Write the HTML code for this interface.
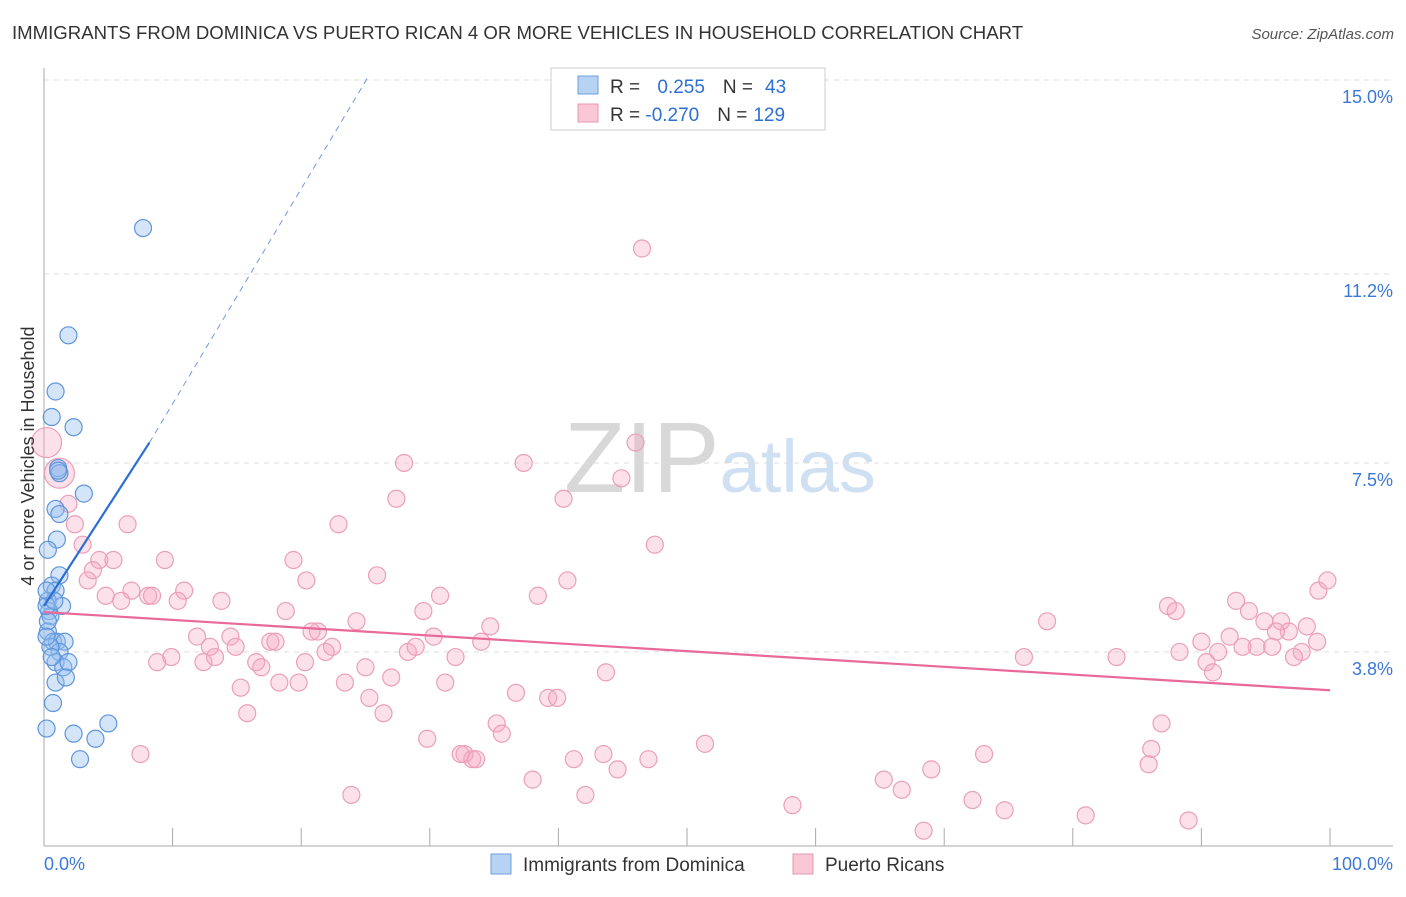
<!DOCTYPE html>
<html><head><meta charset="utf-8"><style>
body{margin:0;background:#fff;font-family:"Liberation Sans",sans-serif}
svg text{font-family:"Liberation Sans",sans-serif}
</style></head><body>
<svg id="chart" width="1406" height="892" xmlns="http://www.w3.org/2000/svg">
<text x="12" y="39" font-size="18.6" fill="#333">IMMIGRANTS FROM DOMINICA VS PUERTO RICAN 4 OR MORE VEHICLES IN HOUSEHOLD CORRELATION CHART</text>
<text x="1394" y="39" font-size="15" fill="#555" text-anchor="end" font-style="italic">Source: ZipAtlas.com</text>
<text x="720" y="492" font-size="100" text-anchor="middle" fill="#ddd" font-family="Liberation Serif"><tspan fill="#d8d8d8">ZIP</tspan><tspan fill="#cfe0f3" font-family="Liberation Sans" font-size="74">atlas</tspan></text>
<g id="grid"></g>
<g id="axes"></g>
<g id="pink"></g>
<g id="blue"></g>
<g id="trends"></g>
<text transform="translate(34,456) rotate(-90)" font-size="18" fill="#333" text-anchor="middle">4 or more Vehicles in Household</text>
<g>
<rect x="551" y="68" width="274" height="62" fill="#fff" stroke="#ccc"/>
<rect x="578" y="76" width="20" height="18" fill="#b7d2f3" stroke="#6fa0dc"/>
<rect x="578" y="104" width="20" height="18" fill="#f9c7d6" stroke="#e899b2"/>
<text x="610" y="93" font-size="19" fill="#333">R = <tspan fill="#2e6fd6" dx="12">0.255</tspan><tspan dx="18">N =</tspan><tspan fill="#2e6fd6" dx="12">43</tspan></text>
<text x="610" y="121" font-size="19" fill="#333">R = <tspan fill="#2e6fd6">-0.270</tspan><tspan dx="18">N =</tspan><tspan fill="#2e6fd6" dx="6">129</tspan></text>
</g>
<g>
<rect x="491" y="854" width="20" height="20" fill="#b7d2f3" stroke="#6fa0dc"/>
<text x="523" y="871" font-size="19" fill="#333">Immigrants from Dominica</text>
<rect x="793" y="854" width="20" height="20" fill="#f9c7d6" stroke="#e899b2"/>
<text x="825" y="871" font-size="19" fill="#333">Puerto Ricans</text>
</g>
</svg>
<script>
const yTicks=[15.0,11.2,7.5,3.8];
const yTickLabels=["15.0%","11.2%","7.5%","3.8%"];
const xLabels=["0.0%","100.0%"];
const blueX=[7.7,1.9,0.9,0.6,2.3,1.1,1.2,3.1,0.9,1.2,1.0,0.3,1.2,0.6,0.9,0.3,1.4,0.4,0.5,0.3,0.7,1.0,1.6,1.2,0.9,1.5,1.9,0.9,1.7,0.7,0.2,2.3,4.0,5.0,2.8,0.3,0.2,1.1,0.5,0.8,0.2,0.6,0.2];
const blueY=[12.1,10.0,8.9,8.4,8.2,7.4,7.3,6.9,6.6,6.5,6.0,5.8,5.3,5.1,5.0,4.8,4.7,4.6,4.5,4.2,4.0,4.0,4.0,3.8,3.6,3.5,3.6,3.2,3.3,2.8,2.3,2.2,2.1,2.4,1.7,4.4,4.7,7.35,3.9,4.8,5.0,3.7,4.1];
const pinkX=[46.5,0.2,1.2,1.9,2.4,3.0,6.5,28,37.3,46,27.4,40.4,44.9,22.9,47.5,4.3,5.4,3.8,3.4,9.4,19.4,20.4,25.9,40.7,6.8,10.9,4.8,6.0,8.1,8.4,10.4,13.8,30.8,38.4,99.1,99.8,87.4,88.0,92.7,93.7,18.8,29.5,34.7,24.3,21.3,20.8,11.9,14.5,12.9,14.9,17.6,18.0,22.4,21.9,28.3,28.9,30.3,34,32.0,78.0,90,92.2,94.9,96.2,96.8,95.8,98.2,99.0,94.3,93.2,95.5,97.8,97.2,91.3,88.3,90.4,90.9,83.4,76.2,8.8,9.9,12.4,13.3,16.5,16.9,20.3,25.0,27.0,23.4,15.3,18.3,19.8,31.2,36.7,39.2,39.9,43.7,25.3,26.4,15.8,35.2,35.6,29.8,7.5,32.7,33.3,32.4,33.6,41.2,43.5,44.6,47.0,51.4,73.1,86.9,86.1,85.9,69.0,65.3,66.7,23.9,38.0,42.1,58.2,72.2,74.7,81.0,89.0,68.4];
const pinkY=[11.7,7.9,7.3,6.7,6.3,5.9,6.3,7.5,7.5,7.9,6.8,6.8,7.2,6.3,5.9,5.6,5.6,5.4,5.2,5.6,5.6,5.2,5.3,5.2,5.0,5.0,4.9,4.8,4.9,4.9,4.8,4.8,4.9,4.9,5.0,5.2,4.7,4.6,4.8,4.6,4.6,4.6,4.3,4.4,4.2,4.2,4.1,4.1,3.9,3.9,4.0,4.0,3.9,3.8,3.8,3.9,4.1,4.0,3.7,4.4,4.0,4.1,4.4,4.4,4.2,4.2,4.3,4.0,3.9,3.9,3.9,3.8,3.7,3.8,3.8,3.6,3.4,3.7,3.7,3.6,3.7,3.6,3.7,3.6,3.5,3.6,3.5,3.3,3.2,3.1,3.2,3.2,3.2,3.0,2.9,2.9,3.4,2.9,2.6,2.6,2.4,2.2,2.1,1.8,1.8,1.7,1.8,1.7,1.7,1.8,1.5,1.7,2.0,1.8,2.4,1.9,1.6,1.5,1.3,1.1,1.0,1.3,1.0,0.8,0.9,0.7,0.6,0.5,0.3];
const X=v=>44+v*12.86, Y=v=>846-v*51.07;
const NS="http://www.w3.org/2000/svg";
function mk(tag,parent,attrs){const e=document.createElementNS(NS,tag);for(const k in attrs)e.setAttribute(k,attrs[k]);document.getElementById(parent).appendChild(e);return e;}
yTicks.forEach((t,i)=>{
 const l=mk('line','grid',{x1:44,x2:1393,y1:Y(t),y2:Y(t),stroke:'#ddd','stroke-dasharray':'5,5'});
 
 
 const tx=mk('text','axes',{x:1393,y:Y(t)+23,'font-size':18,fill:'#3b78d8','text-anchor':'end'});
 tx.textContent=yTickLabels[i];
 
 
});
mk('line','axes',{x1:44,x2:44,y1:68,y2:846,stroke:'#aaa'});
mk('line','axes',{x1:44,x2:1393,y1:846,y2:846,stroke:'#aaa'});
for(let i=0;i<=10;i++){const t=mk('line','axes',{x1:X(i*10),x2:X(i*10),y1:828,y2:846,stroke:'#aaa'});
 
 }
[[0,'start'],[100,'end']].forEach((p,i)=>{const tx=mk('text','axes',{x:i?1393:44,y:870,'font-size':18,fill:'#3b78d8','text-anchor':p[1]});tx.textContent=xLabels[i];
 
 });
pinkX.forEach((x,i)=>{const c=mk('circle','pink',{cx:X(x),cy:Y(pinkY[i]),r:(i===1||i===2)?15:8.5,fill:'rgba(246,170,195,0.35)',stroke:'#eb9fb8','stroke-width':1.2});
 
 });
blueX.forEach((x,i)=>{const c=mk('circle','blue',{cx:X(x),cy:Y(blueY[i]),r:8.5,fill:'rgba(150,190,240,0.4)',stroke:'#5e95db','stroke-width':1.2});
 
 });
let t1=mk('line','trends',{x1:X(8.2),y1:Y(7.9),x2:X(25.3),y2:Y(15.1),stroke:'#6d9be0','stroke-width':1,'stroke-dasharray':'6,5'});

let t2=mk('line','trends',{x1:X(0),y1:Y(4.7),x2:X(8.2),y2:Y(7.9),stroke:'#2b6fd6','stroke-width':2.2});

let t3=mk('line','trends',{x1:X(0),y1:Y(4.58),x2:X(100),y2:Y(3.05),stroke:'#e8699a','stroke-width':2.2});

</script>
</body></html>
